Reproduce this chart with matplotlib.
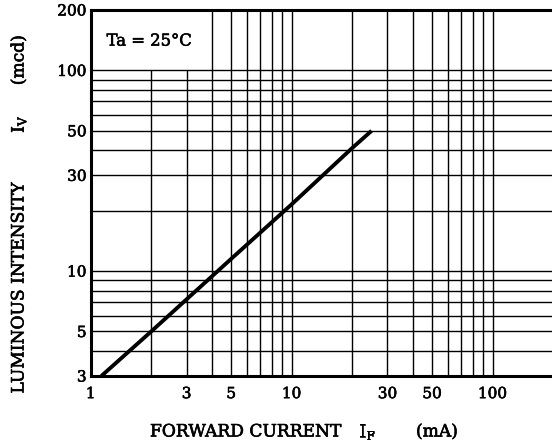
import matplotlib
matplotlib.use("Agg")
import matplotlib.pyplot as plt
import matplotlib.patheffects as pe

plt.rcParams['font.family'] = ['DejaVu Serif']
plt.rcParams['mathtext.fontset'] = 'dejavuserif'

# Data: luminous intensity vs forward current (Ta = 25 C)
current_ma = [1.13, 2, 5, 10, 20, 25]
intensity_mcd = [3.0, 5.0, 11.5, 21.5, 41, 50]

x_ticks = [1, 3, 5, 10, 30, 50, 100]
y_ticks = [3, 5, 10, 30, 50, 100, 200]

x_grid_full = [4, 5, 6, 7, 8, 9, 10, 20, 30, 40, 50, 60, 70, 80, 90, 100]
x_grid_short = [2, 3]
y_grid = [4, 5, 6, 7, 8, 9, 10, 20, 30, 40, 50, 60, 70, 80, 90, 100]

x_lim = (1, 200)
y_lim = (3, 200)

W, H = 552, 445
fig = plt.figure(figsize=(W / 100, H / 100), dpi=100)
ax = fig.add_axes([90.7 / W, 1 - 376 / H, (553 - 90.7) / W, (376 - 10) / H])
ax.set_xscale('log')
ax.set_yscale('log')
ax.set_xlim(*x_lim)
ax.set_ylim(*y_lim)

ax.vlines(x_grid_full, y_lim[0], y_lim[1], colors='black', linewidth=1.0, zorder=1)
ax.vlines(x_grid_short, y_lim[0], 100, colors='black', linewidth=1.0, zorder=1)
ax.hlines(y_grid, x_lim[0], x_lim[1], colors='black', linewidth=1.0, zorder=1)

ax.plot(current_ma, intensity_mcd, color='black', linewidth=2.8, solid_capstyle='butt', zorder=3)

ax.set_xticks(x_ticks)
ax.set_xticklabels([str(v) for v in x_ticks])
ax.set_yticks(y_ticks)
ax.set_yticklabels([str(v) for v in y_ticks])
ax.minorticks_off()
ax.tick_params(axis='both', length=0, labelsize=11, colors='black')
ax.tick_params(axis='x', pad=8)
ax.tick_params(axis='y', pad=3)

for s in ax.spines.values():
    s.set_linewidth(2.2)
    s.set_color('black')

heavy = [pe.withStroke(linewidth=0.45, foreground='black')]

texts = []
texts.append(ax.text(1.2, 140, 'Ta = 25°C', fontsize=11.8, ha='left', va='center'))

fs = 12.3
# x-axis label pieces
texts.append(fig.text(150 / W, 1 - 432 / H, 'FORWARD CURRENT', fontsize=fs, ha='left', va='center'))
texts.append(fig.text(359 / W, 1 - 432 / H, r'I$_{\mathrm{F}}$', fontsize=fs, ha='left', va='center'))
texts.append(fig.text(416 / W, 1 - 432 / H, '(mA)', fontsize=fs, ha='left', va='center'))
# y-axis label pieces (rotated)
texts.append(fig.text(19 / W, 1 - 288 / H, 'LUMINOUS INTENSITY', fontsize=fs, ha='center', va='center', rotation=90))
texts.append(fig.text(19 / W, 1 - 124 / H, r'I$_{\mathrm{V}}$', fontsize=fs, ha='center', va='center', rotation=90))
texts.append(fig.text(19 / W, 1 - 60 / H, '(mcd)', fontsize=fs, ha='center', va='center', rotation=90))

for t in texts + ax.get_xticklabels() + ax.get_yticklabels():
    t.set_path_effects(heavy)

fig.savefig('out.png', dpi=100)
